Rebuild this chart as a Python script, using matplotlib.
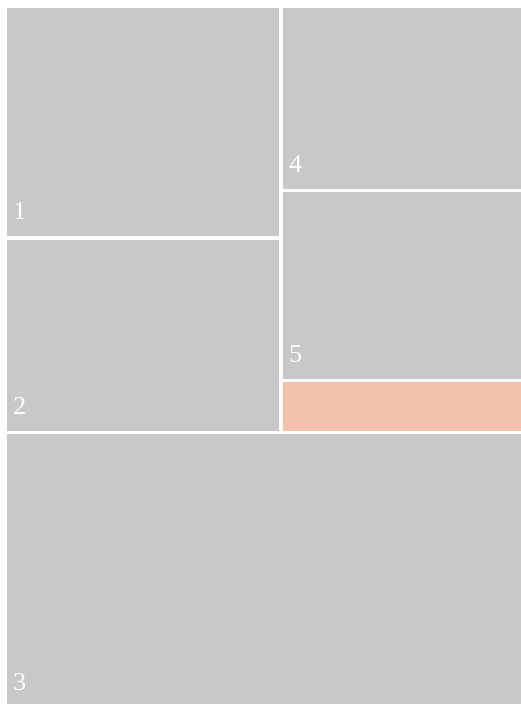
import matplotlib
matplotlib.use("Agg")
import matplotlib.pyplot as plt
import matplotlib.patches as mpatches

# treemap data: labels and areas (share of total)
labels = ["1", "2", "4", "5", "", "3"]
values = [17.63, 14.79, 12.29, 12.67, 3.47, 39.43]
colors = ["#c7c8ca", "#c7c8ca", "#c7c8ca", "#c7c8ca", "#f2c1ab", "#c7c8ca"]
# grouping: top block = two columns, bottom block = one cell
groups = [[[0, 1], [2, 3, 4]], [[5]]]

W, H = 521, 704
gap = 3.5
x0, y0, x1, y1 = 5.25, 6.25, 522.75, 708.75

fig = plt.figure(figsize=(W / 100, H / 100), dpi=100)
ax = fig.add_axes([0, 0, 1, 1])
ax.set_xlim(0, W)
ax.set_ylim(H, 0)
ax.axis("off")

total = sum(values)
y = y0
for block in groups:
    bsum = sum(values[i] for col in block for i in col)
    bh = (y1 - y0) * bsum / total
    x = x0
    for col in block:
        csum = sum(values[i] for i in col)
        cw = (x1 - x0) * csum / bsum
        yy = y
        for i in col:
            ch = bh * values[i] / csum
            rect = mpatches.Rectangle((x + gap / 2, yy + gap / 2), cw - gap, ch - gap,
                                      facecolor=colors[i], edgecolor="none",
                                      antialiased=False)
            ax.add_patch(rect)
            if labels[i]:
                ax.text(x + gap / 2 + 6, yy + ch - gap / 2 - 17, labels[i],
                        color="white", fontsize=19, family="Liberation Serif",
                        ha="left", va="baseline")
            yy += ch
        x += cw
    y += bh

fig.savefig("out.png", dpi=100)
